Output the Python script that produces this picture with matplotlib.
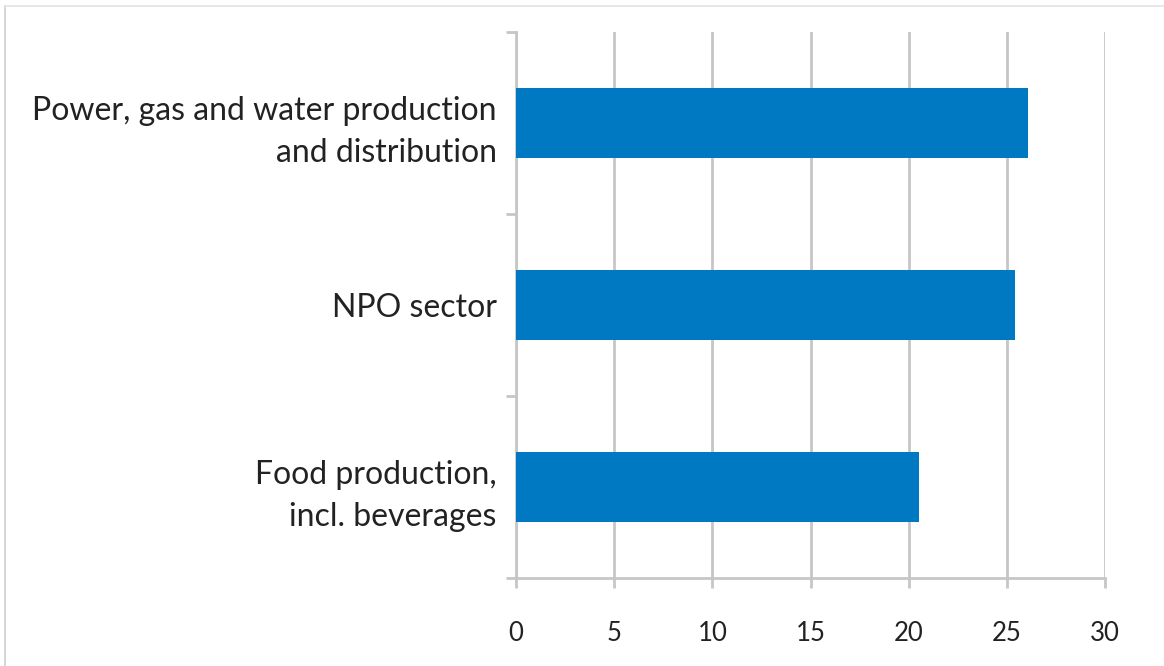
import numpy as np
import matplotlib.pyplot as plt
from matplotlib.lines import Line2D

# sectors, bottom to top
categories = ["Food production,\nincl. beverages", "NPO sector",
              "Power, gas and water production\nand distribution"]
values = [20.55, 25.4, 26.1]
xticks = [0, 5, 10, 15, 20, 25, 30]

bar_color = "#0079C2"
grid_color = "#c6c6c6"

plt.rcParams['font.family'] = ['Lato', 'DejaVu Sans']

fig = plt.figure(figsize=(11.64, 6.66), dpi=100)
ax = fig.add_axes([516/1164, 1 - 578/666, (1105-516)/1164, (578-32)/666])

y = np.arange(len(categories))
ax.barh(y, values, height=0.385, color=bar_color, zorder=3)

ax.set_xlim(0, 30)
ax.set_ylim(-0.5, len(categories) - 0.5)
ax.set_xticks(xticks)
ax.set_xticklabels([str(t) for t in xticks], fontsize=18.5, color="#222222")
ax.set_yticks(y)
ax.set_yticklabels(categories, fontsize=23, color="#222222", linespacing=1.5)
ax.set_yticks(np.arange(len(categories) + 1) - 0.5, minor=True)

ax.grid(axis="x", color=grid_color, linewidth=2, zorder=0)
ax.tick_params(axis="y", which="major", length=0, pad=14)
ax.tick_params(axis="y", which="minor", length=7, width=2, color=grid_color)
ax.tick_params(axis="x", length=7, width=2, color=grid_color, pad=24)

for side in ["top", "right"]:
    ax.spines[side].set_visible(False)
for side in ["left", "bottom"]:
    ax.spines[side].set_color(grid_color)
    ax.spines[side].set_linewidth(2)

# thin frame around the chart area
fig.add_artist(Line2D([5/1164, 5/1164], [0, 1 - 6/666], color="#cfcfcf", linewidth=1.2))
fig.add_artist(Line2D([5/1164, 1], [1 - 6/666, 1 - 6/666], color="#e3e3e3", linewidth=1.2))

fig.savefig("out.png", dpi=100, facecolor="white")
